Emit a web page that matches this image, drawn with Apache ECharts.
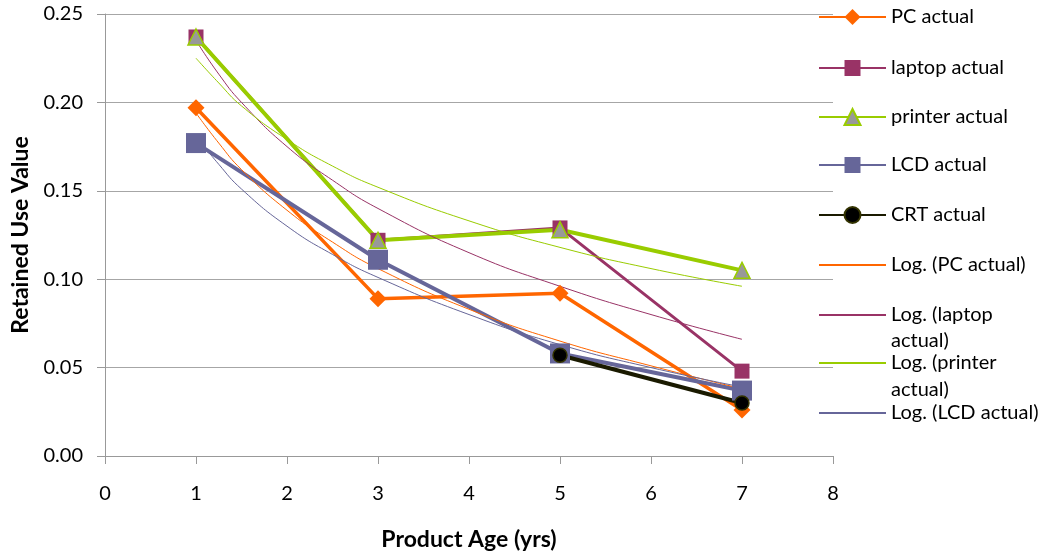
<!DOCTYPE html>
<html>
<head>
<meta charset="utf-8">
<script src="https://cdn.jsdelivr.net/npm/echarts@6/dist/echarts.min.js"></script>
<style>html,body{margin:0;padding:0;background:#fff;}#c{width:1049px;height:552px;}</style>
</head>
<body>
<div id="c"></div>
<script>
// ---- data ----
var ages = [1, 3, 5, 7];
var pcActual = [0.197, 0.089, 0.092, 0.026];
var laptopActual = [0.237, 0.122, 0.129, 0.048];
var printerActual = [0.237, 0.122, 0.128, 0.105];
var lcdActual = [0.177, 0.111, 0.058, 0.037];
var crtAges = [5, 7];
var crtActual = [0.057, 0.030];

var trendAges = [1, 1.25, 1.5, 2, 2.5, 3, 4, 5, 6, 7];
var pcTrend = [0.194, 0.177, 0.162, 0.139, 0.121, 0.106, 0.083, 0.065, 0.051, 0.038];
var laptopTrend = [0.235, 0.216, 0.200, 0.175, 0.156, 0.140, 0.115, 0.096, 0.080, 0.066];
var printerTrend = [0.225, 0.211, 0.198, 0.179, 0.164, 0.152, 0.133, 0.118, 0.106, 0.096];
var lcdTrend = [0.181, 0.165, 0.151, 0.130, 0.114, 0.101, 0.080, 0.063, 0.050, 0.039];

var xTicks = [0, 1, 2, 3, 4, 5, 6, 7, 8];
var yTicks = [0, 0.05, 0.10, 0.15, 0.20, 0.25];

var seriesNames = ['PC actual', 'laptop actual', 'printer actual', 'LCD actual', 'CRT actual',
  'Log. (PC actual)', 'Log. (laptop actual)', 'Log. (printer actual)', 'Log. (LCD actual)'];
var legendLabels = ['PC actual', 'laptop actual', 'printer actual', 'LCD actual', 'CRT actual',
  'Log. (PC actual)', 'Log. (laptop', 'Log. (printer', 'Log. (LCD actual)'];
var legendCenters = [17, 68, 117, 165, 215, 265, 315, 363, 413];

function pairs(xs, ys) { return xs.map(function (x, i) { return [x, ys[i]]; }); }

var FONT = 'Lato';
var chart = echarts.init(document.getElementById('c'), null, { renderer: 'canvas' });

var legends = seriesNames.map(function (n, i) {
  var isTrend = i >= 5;
  var lg = {
    data: [n],
    orient: 'vertical',
    left: 818,
    top: legendCenters[i] - 10,
    padding: 0,
    itemWidth: 67,
    itemHeight: 20,
    itemGap: 0,
    selectedMode: false,
    formatter: function () { return legendLabels[i]; },
    textStyle: { fontFamily: FONT, fontSize: 20, color: '#000', lineHeight: 20 }
  };
  if (isTrend) { lg.itemStyle = { opacity: 0 }; }
  return lg;
});

var option = {
  animation: false,
  backgroundColor: '#fff',
  textStyle: { fontFamily: FONT },
  grid: { left: 105, right: 216, top: 14, bottom: 96, containLabel: false, outerBoundsMode: 'none' },
  legend: legends,
  graphic: [
    { type: 'text', left: 891, top: 331, style: { text: 'actual)', font: '20px ' + FONT, fill: '#000' } },
    { type: 'text', left: 891, top: 380, style: { text: 'actual)', font: '20px ' + FONT, fill: '#000' } }
  ],
  xAxis: {
    type: 'value', min: xTicks[0], max: xTicks[xTicks.length - 1], interval: 1,
    name: 'Product Age (yrs)', nameLocation: 'middle', nameGap: 72,
    nameTextStyle: { fontFamily: FONT, fontSize: 23, fontWeight: 'bold', color: '#000' },
    axisLine: { onZero: false, lineStyle: { color: '#999', width: 1 } },
    axisTick: { show: true, length: 8, lineStyle: { color: '#999' } },
    axisLabel: { fontFamily: FONT, fontSize: 20, color: '#000', margin: 28 },
    splitLine: { show: false }
  },
  yAxis: {
    type: 'value', min: yTicks[0], max: yTicks[yTicks.length - 1], interval: 0.05,
    name: 'Retained Use Value', nameLocation: 'middle', nameGap: 73, nameRotate: 90,
    nameTextStyle: { fontFamily: FONT, fontSize: 23, fontWeight: 'bold', color: '#000' },
    axisLine: { show: true, lineStyle: { color: '#999', width: 1 } },
    axisTick: { show: true, length: 8, lineStyle: { color: '#999' } },
    axisLabel: { fontFamily: FONT, fontSize: 20, color: '#000', margin: 22,
      formatter: function (v) { return v.toFixed(2); } },
    splitLine: { show: true, lineStyle: { color: '#a6a6a6', width: 1 } }
  },
  series: [
    { name: seriesNames[0], type: 'line', data: pairs(ages, pcActual),
      lineStyle: { color: '#FF6600', width: 3.5 }, itemStyle: { color: '#FF6600' },
      symbol: 'diamond', symbolSize: 17 },
    { name: seriesNames[1], type: 'line', data: pairs(ages, laptopActual),
      lineStyle: { color: '#993366', width: 3 }, itemStyle: { color: '#993366' },
      symbol: 'rect', symbolSize: 15 },
    { name: seriesNames[2], type: 'line', data: pairs(ages, printerActual),
      lineStyle: { color: '#99CC00', width: 4 },
      itemStyle: { color: '#999999', borderColor: '#99CC00', borderWidth: 1.5 },
      symbol: 'triangle', symbolSize: 16 },
    { name: seriesNames[3], type: 'line', data: pairs(ages, lcdActual),
      lineStyle: { color: '#666699', width: 4 }, itemStyle: { color: '#666699' },
      symbol: 'rect', symbolSize: 20 },
    { name: seriesNames[4], type: 'line', data: pairs(crtAges, crtActual),
      lineStyle: { color: '#1a1a00', width: 4 },
      itemStyle: { color: '#000000', borderColor: '#333300', borderWidth: 1.5 },
      symbol: 'circle', symbolSize: 14 },
    { name: seriesNames[5], type: 'line', data: pairs(trendAges, pcTrend), smooth: true,
      symbol: 'none', lineStyle: { color: '#FF6600', width: 1 }, itemStyle: { color: '#FF9966' } },
    { name: seriesNames[6], type: 'line', data: pairs(trendAges, laptopTrend), smooth: true,
      symbol: 'none', lineStyle: { color: '#993366', width: 1 }, itemStyle: { color: '#993366' } },
    { name: seriesNames[7], type: 'line', data: pairs(trendAges, printerTrend), smooth: true,
      symbol: 'none', lineStyle: { color: '#99CC00', width: 1 }, itemStyle: { color: '#99CC00' } },
    { name: seriesNames[8], type: 'line', data: pairs(trendAges, lcdTrend), smooth: true,
      symbol: 'none', lineStyle: { color: '#666699', width: 1 }, itemStyle: { color: '#666699' } }
  ]
};
chart.setOption(option);
</script>
</body>
</html>
